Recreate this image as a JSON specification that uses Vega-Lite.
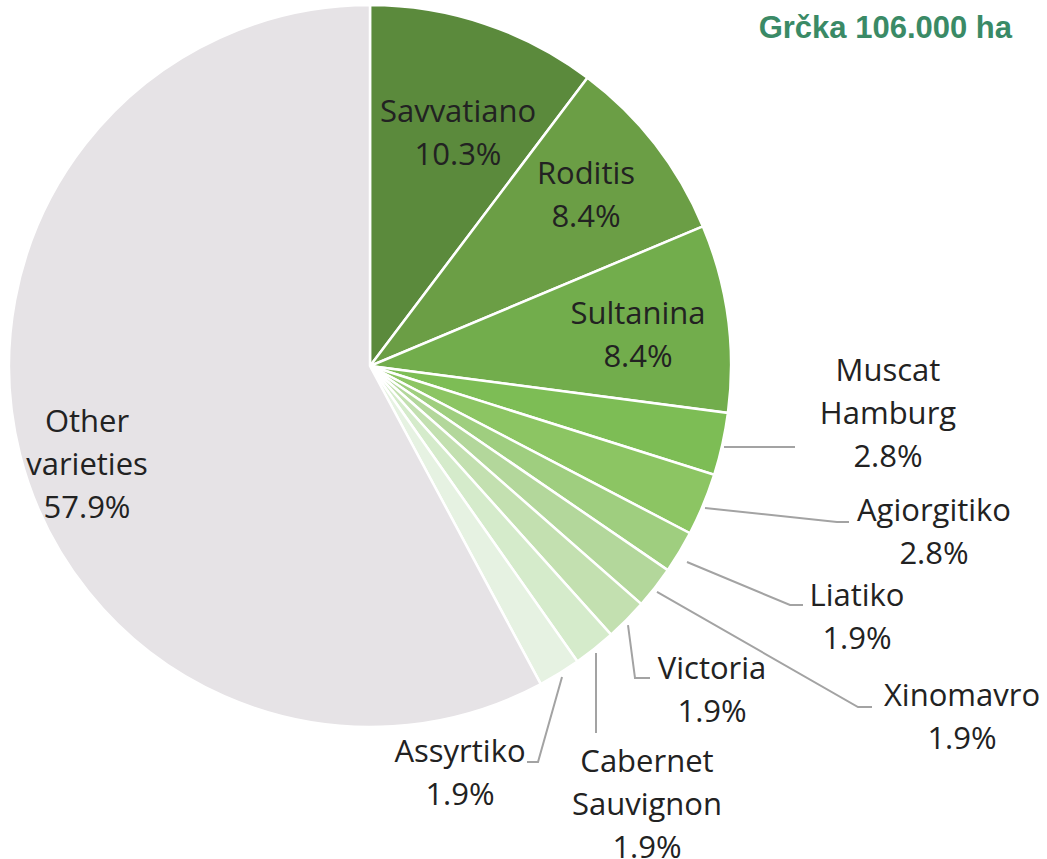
{
  "$schema": "https://vega.github.io/schema/vega-lite/v6.json",
  "width": 1047,
  "height": 859,
  "padding": 0,
  "background": "white",
  "config": {"view": {"stroke": null}},
  "datasets": {
    "slices": [
      {"variety": "Savvatiano", "share": 10.3, "rank": 1},
      {"variety": "Roditis", "share": 8.4, "rank": 2},
      {"variety": "Sultanina", "share": 8.4, "rank": 3},
      {"variety": "Muscat Hamburg", "share": 2.8, "rank": 4},
      {"variety": "Agiorgitiko", "share": 2.8, "rank": 5},
      {"variety": "Liatiko", "share": 1.9, "rank": 6},
      {"variety": "Xinomavro", "share": 1.9, "rank": 7},
      {"variety": "Victoria", "share": 1.9, "rank": 8},
      {"variety": "Cabernet Sauvignon", "share": 1.9, "rank": 9},
      {"variety": "Assyrtiko", "share": 1.9, "rank": 10},
      {"variety": "Other varieties", "share": 57.9, "rank": 11}
    ],
    "labels": [
      {"variety": "Savvatiano", "text": "Savvatiano\n10.3%", "x": 0.2438, "y": 0.7008},
      {"variety": "Roditis", "text": "Roditis\n8.4%", "x": 0.5983, "y": 0.5291},
      {"variety": "Sultanina", "text": "Sultanina\n8.4%", "x": 0.7424, "y": 0.1413},
      {"variety": "Other varieties", "text": "Other\nvarieties\n57.9%", "x": -0.7839, "y": -0.1579},
      {"variety": "Muscat Hamburg", "text": "Muscat\nHamburg\n2.8%", "x": 1.4349, "y": -0.0166},
      {"variety": "Agiorgitiko", "text": "Agiorgitiko\n2.8%", "x": 1.5623, "y": -0.4044},
      {"variety": "Liatiko", "text": "Liatiko\n1.9%", "x": 1.349, "y": -0.6399},
      {"variety": "Xinomavro", "text": "Xinomavro\n1.9%", "x": 1.6399, "y": -0.9169},
      {"variety": "Victoria", "text": "Victoria\n1.9%", "x": 0.9474, "y": -0.8421},
      {"variety": "Cabernet Sauvignon", "text": "Cabernet\nSauvignon\n1.9%", "x": 0.7673, "y": -1.0997},
      {"variety": "Assyrtiko", "text": "Assyrtiko\n1.9%", "x": 0.2493, "y": -1.072}
    ],
    "leaders": [
      {"variety": "Muscat Hamburg", "seq": 1, "x": 0.9806, "y": -0.2244},
      {"variety": "Muscat Hamburg", "seq": 2, "x": 1.1773, "y": -0.2244},
      {"variety": "Agiorgitiko", "seq": 1, "x": 0.928, "y": -0.3934},
      {"variety": "Agiorgitiko", "seq": 2, "x": 1.2936, "y": -0.4321},
      {"variety": "Agiorgitiko", "seq": 3, "x": 1.3269, "y": -0.4321},
      {"variety": "Liatiko", "seq": 1, "x": 0.8781, "y": -0.5429},
      {"variety": "Liatiko", "seq": 2, "x": 1.1634, "y": -0.662},
      {"variety": "Liatiko", "seq": 3, "x": 1.1994, "y": -0.662},
      {"variety": "Xinomavro", "seq": 1, "x": 0.795, "y": -0.626},
      {"variety": "Xinomavro", "seq": 2, "x": 1.3518, "y": -0.9446},
      {"variety": "Xinomavro", "seq": 3, "x": 1.3906, "y": -0.9446},
      {"variety": "Victoria", "seq": 1, "x": 0.7147, "y": -0.7175},
      {"variety": "Victoria", "seq": 2, "x": 0.7341, "y": -0.8643},
      {"variety": "Victoria", "seq": 3, "x": 0.7756, "y": -0.8643},
      {"variety": "Cabernet Sauvignon", "seq": 1, "x": 0.626, "y": -0.795},
      {"variety": "Cabernet Sauvignon", "seq": 2, "x": 0.626, "y": -1.0166},
      {"variety": "Assyrtiko", "seq": 1, "x": 0.5319, "y": -0.8615},
      {"variety": "Assyrtiko", "seq": 2, "x": 0.4654, "y": -1.097},
      {"variety": "Assyrtiko", "seq": 3, "x": 0.4349, "y": -1.097}
    ],
    "heading": [
      {"text": "Grčka 106.000 ha", "x": 1.7784, "y": 0.9086}
    ]
  },
  "layer": [
    {
      "data": {"name": "slices"},
      "mark": {"type": "arc", "radius": 361, "stroke": "white", "strokeWidth": 2.5},
      "encoding": {
        "x": {"datum": 0, "type": "quantitative", "scale": {"domain": [-1.02493, 1.87535], "nice": false, "zero": false}, "axis": null},
        "y": {"datum": 0, "type": "quantitative", "scale": {"domain": [-1.36565, 1.01385], "nice": false, "zero": false}, "axis": null},
        "theta": {"field": "share", "type": "quantitative", "stack": true},
        "order": {"field": "rank", "type": "quantitative"},
        "color": {
          "field": "variety",
          "type": "nominal",
          "legend": null,
          "scale": {
            "domain": ["Savvatiano", "Roditis", "Sultanina", "Muscat Hamburg", "Agiorgitiko", "Liatiko", "Xinomavro", "Victoria", "Cabernet Sauvignon", "Assyrtiko", "Other varieties"],
            "range": ["#5b8a3c", "#6b9e45", "#72ad4c", "#7dbd55", "#8cc563", "#9fce7f", "#b3d79b", "#c3e0b0", "#d5ebcb", "#e6f2e2", "#e6e3e6"]
          }
        }
      }
    },
    {
      "data": {"name": "leaders"},
      "mark": {"type": "line", "color": "#a3a3a3", "strokeWidth": 2},
      "encoding": {
        "x": {"field": "x", "type": "quantitative", "axis": null},
        "y": {"field": "y", "type": "quantitative", "axis": null},
        "detail": {"field": "variety", "type": "nominal"},
        "order": {"field": "seq", "type": "quantitative"}
      }
    },
    {
      "data": {"name": "labels"},
      "mark": {"type": "text", "font": "Open Sans", "fontSize": 31, "color": "#222222", "align": "center", "baseline": "middle", "lineBreak": "\n", "lineHeight": 43},
      "encoding": {
        "x": {"field": "x", "type": "quantitative", "axis": null},
        "y": {"field": "y", "type": "quantitative", "axis": null},
        "text": {"field": "text", "type": "nominal"}
      }
    },
    {
      "data": {"name": "heading"},
      "mark": {"type": "text", "font": "Liberation Sans", "fontWeight": "bold", "fontSize": 31, "color": "#3a8a66", "align": "right", "baseline": "alphabetic"},
      "encoding": {
        "x": {"field": "x", "type": "quantitative", "axis": null},
        "y": {"field": "y", "type": "quantitative", "axis": null},
        "text": {"field": "text", "type": "nominal"}
      }
    }
  ]
}
